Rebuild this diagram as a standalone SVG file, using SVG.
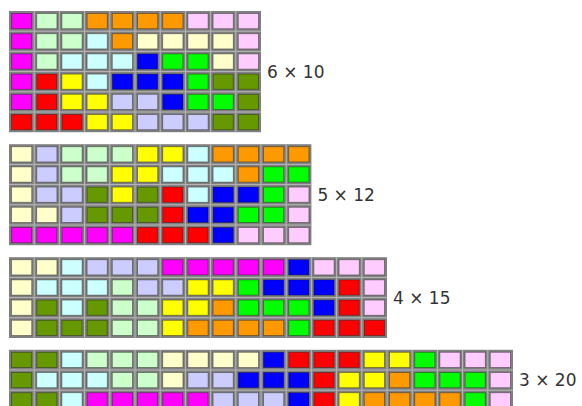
<svg xmlns="http://www.w3.org/2000/svg" xmlns:xlink="http://www.w3.org/1999/xlink" width="582" height="406" viewBox="0 0 582 406">
<style>
.bg{fill:#7f7f7f}
.ln{stroke:#b8b8b8;stroke-width:1;fill:none}
.cell{stroke:#000;stroke-opacity:0.35;stroke-width:1}
.m{fill:#ff00ff}.g{fill:#ccffcc}.o{fill:#ff9900}.k{fill:#ffccff}.c{fill:#ccffff}.y{fill:#ffffcc}
.b{fill:#0000ff}.n{fill:#00ff00}.v{fill:#669900}.r{fill:#ff0000}.w{fill:#ffff00}.l{fill:#ccccff}
.lbl{font-family:"DejaVu Sans","Liberation Sans",sans-serif;font-size:17px;fill:#333}
</style>
<defs>
<rect id="cm" class="cell m" width="20.2" height="15.2"/>
<rect id="cg" class="cell g" width="20.2" height="15.2"/>
<rect id="co" class="cell o" width="20.2" height="15.2"/>
<rect id="ck" class="cell k" width="20.2" height="15.2"/>
<rect id="cc" class="cell c" width="20.2" height="15.2"/>
<rect id="cy" class="cell y" width="20.2" height="15.2"/>
<rect id="cb" class="cell b" width="20.2" height="15.2"/>
<rect id="cn" class="cell n" width="20.2" height="15.2"/>
<rect id="cv" class="cell v" width="20.2" height="15.2"/>
<rect id="cr" class="cell r" width="20.2" height="15.2"/>
<rect id="cw" class="cell w" width="20.2" height="15.2"/>
<rect id="cl" class="cell l" width="20.2" height="15.2"/>
</defs>

<g id="grid-6x10">
<rect class="bg" x="9" y="11" width="252" height="121.2"/>
<path class="ln" d="M34.2 11V132.2M59.4 11V132.2M84.6 11V132.2M109.8 11V132.2M135 11V132.2M160.2 11V132.2M185.4 11V132.2M210.6 11V132.2M235.8 11V132.2M9 31.2H261M9 51.4H261M9 71.6H261M9 91.8H261M9 112H261"/>
<g transform="translate(0,13.5)">
<use href="#cm" x="11.5"/><use href="#cg" x="36.7"/><use href="#cg" x="61.9"/><use href="#co" x="87.1"/><use href="#co" x="112.3"/><use href="#co" x="137.5"/><use href="#co" x="162.7"/><use href="#ck" x="187.9"/><use href="#ck" x="213.1"/><use href="#ck" x="238.3"/>
</g>
<g transform="translate(0,33.7)">
<use href="#cm" x="11.5"/><use href="#cg" x="36.7"/><use href="#cg" x="61.9"/><use href="#cc" x="87.1"/><use href="#co" x="112.3"/><use href="#cy" x="137.5"/><use href="#cy" x="162.7"/><use href="#cy" x="187.9"/><use href="#cy" x="213.1"/><use href="#ck" x="238.3"/>
</g>
<g transform="translate(0,53.9)">
<use href="#cm" x="11.5"/><use href="#cg" x="36.7"/><use href="#cc" x="61.9"/><use href="#cc" x="87.1"/><use href="#cc" x="112.3"/><use href="#cb" x="137.5"/><use href="#cn" x="162.7"/><use href="#cn" x="187.9"/><use href="#cy" x="213.1"/><use href="#ck" x="238.3"/>
</g>
<g transform="translate(0,74.1)">
<use href="#cm" x="11.5"/><use href="#cr" x="36.7"/><use href="#cw" x="61.9"/><use href="#cc" x="87.1"/><use href="#cb" x="112.3"/><use href="#cb" x="137.5"/><use href="#cb" x="162.7"/><use href="#cn" x="187.9"/><use href="#cv" x="213.1"/><use href="#cv" x="238.3"/>
</g>
<g transform="translate(0,94.3)">
<use href="#cm" x="11.5"/><use href="#cr" x="36.7"/><use href="#cw" x="61.9"/><use href="#cw" x="87.1"/><use href="#cl" x="112.3"/><use href="#cl" x="137.5"/><use href="#cb" x="162.7"/><use href="#cn" x="187.9"/><use href="#cn" x="213.1"/><use href="#cv" x="238.3"/>
</g>
<g transform="translate(0,114.5)">
<use href="#cr" x="11.5"/><use href="#cr" x="36.7"/><use href="#cr" x="61.9"/><use href="#cw" x="87.1"/><use href="#cw" x="112.3"/><use href="#cl" x="137.5"/><use href="#cl" x="162.7"/><use href="#cl" x="187.9"/><use href="#cv" x="213.1"/><use href="#cv" x="238.3"/>
</g>
<text class="lbl" x="267" y="78">6 × 10</text>
</g>

<g id="grid-5x12">
<rect class="bg" x="9" y="144.2" width="302.4" height="101"/>
<path class="ln" d="M34.2 144.2V245.2M59.4 144.2V245.2M84.6 144.2V245.2M109.8 144.2V245.2M135 144.2V245.2M160.2 144.2V245.2M185.4 144.2V245.2M210.6 144.2V245.2M235.8 144.2V245.2M261 144.2V245.2M286.2 144.2V245.2M9 164.4H311.4M9 184.6H311.4M9 204.8H311.4M9 225H311.4"/>
<g transform="translate(0,146.7)">
<use href="#cy" x="11.5"/><use href="#cl" x="36.7"/><use href="#cg" x="61.9"/><use href="#cg" x="87.1"/><use href="#cg" x="112.3"/><use href="#cw" x="137.5"/><use href="#cw" x="162.7"/><use href="#cc" x="187.9"/><use href="#co" x="213.1"/><use href="#co" x="238.3"/><use href="#co" x="263.5"/><use href="#co" x="288.7"/>
</g>
<g transform="translate(0,166.9)">
<use href="#cy" x="11.5"/><use href="#cl" x="36.7"/><use href="#cg" x="61.9"/><use href="#cg" x="87.1"/><use href="#cw" x="112.3"/><use href="#cw" x="137.5"/><use href="#cc" x="162.7"/><use href="#cc" x="187.9"/><use href="#cc" x="213.1"/><use href="#co" x="238.3"/><use href="#cn" x="263.5"/><use href="#cn" x="288.7"/>
</g>
<g transform="translate(0,187.1)">
<use href="#cy" x="11.5"/><use href="#cl" x="36.7"/><use href="#cl" x="61.9"/><use href="#cv" x="87.1"/><use href="#cw" x="112.3"/><use href="#cv" x="137.5"/><use href="#cr" x="162.7"/><use href="#cc" x="187.9"/><use href="#cb" x="213.1"/><use href="#cb" x="238.3"/><use href="#cn" x="263.5"/><use href="#ck" x="288.7"/>
</g>
<g transform="translate(0,207.3)">
<use href="#cy" x="11.5"/><use href="#cy" x="36.7"/><use href="#cl" x="61.9"/><use href="#cv" x="87.1"/><use href="#cv" x="112.3"/><use href="#cv" x="137.5"/><use href="#cr" x="162.7"/><use href="#cb" x="187.9"/><use href="#cb" x="213.1"/><use href="#cn" x="238.3"/><use href="#cn" x="263.5"/><use href="#ck" x="288.7"/>
</g>
<g transform="translate(0,227.5)">
<use href="#cm" x="11.5"/><use href="#cm" x="36.7"/><use href="#cm" x="61.9"/><use href="#cm" x="87.1"/><use href="#cm" x="112.3"/><use href="#cr" x="137.5"/><use href="#cr" x="162.7"/><use href="#cr" x="187.9"/><use href="#cb" x="213.1"/><use href="#ck" x="238.3"/><use href="#ck" x="263.5"/><use href="#ck" x="288.7"/>
</g>
<text class="lbl" x="317.4" y="201">5 × 12</text>
</g>

<g id="grid-4x15">
<rect class="bg" x="9" y="257.2" width="378" height="80.8"/>
<path class="ln" d="M34.2 257.2V338M59.4 257.2V338M84.6 257.2V338M109.8 257.2V338M135 257.2V338M160.2 257.2V338M185.4 257.2V338M210.6 257.2V338M235.8 257.2V338M261 257.2V338M286.2 257.2V338M311.4 257.2V338M336.6 257.2V338M361.8 257.2V338M9 277.4H387M9 297.6H387M9 317.8H387"/>
<g transform="translate(0,259.7)">
<use href="#cy" x="11.5"/><use href="#cy" x="36.7"/><use href="#cc" x="61.9"/><use href="#cl" x="87.1"/><use href="#cl" x="112.3"/><use href="#cl" x="137.5"/><use href="#cm" x="162.7"/><use href="#cm" x="187.9"/><use href="#cm" x="213.1"/><use href="#cm" x="238.3"/><use href="#cm" x="263.5"/><use href="#cb" x="288.7"/><use href="#ck" x="313.9"/><use href="#ck" x="339.1"/><use href="#ck" x="364.3"/>
</g>
<g transform="translate(0,279.9)">
<use href="#cy" x="11.5"/><use href="#cc" x="36.7"/><use href="#cc" x="61.9"/><use href="#cc" x="87.1"/><use href="#cg" x="112.3"/><use href="#cl" x="137.5"/><use href="#cl" x="162.7"/><use href="#cw" x="187.9"/><use href="#cw" x="213.1"/><use href="#cn" x="238.3"/><use href="#cb" x="263.5"/><use href="#cb" x="288.7"/><use href="#cb" x="313.9"/><use href="#cr" x="339.1"/><use href="#ck" x="364.3"/>
</g>
<g transform="translate(0,300.1)">
<use href="#cy" x="11.5"/><use href="#cv" x="36.7"/><use href="#cc" x="61.9"/><use href="#cv" x="87.1"/><use href="#cg" x="112.3"/><use href="#cg" x="137.5"/><use href="#cw" x="162.7"/><use href="#cw" x="187.9"/><use href="#co" x="213.1"/><use href="#cn" x="238.3"/><use href="#cn" x="263.5"/><use href="#cn" x="288.7"/><use href="#cb" x="313.9"/><use href="#cr" x="339.1"/><use href="#ck" x="364.3"/>
</g>
<g transform="translate(0,320.3)">
<use href="#cy" x="11.5"/><use href="#cv" x="36.7"/><use href="#cv" x="61.9"/><use href="#cv" x="87.1"/><use href="#cg" x="112.3"/><use href="#cg" x="137.5"/><use href="#cw" x="162.7"/><use href="#co" x="187.9"/><use href="#co" x="213.1"/><use href="#co" x="238.3"/><use href="#co" x="263.5"/><use href="#cn" x="288.7"/><use href="#cr" x="313.9"/><use href="#cr" x="339.1"/><use href="#cr" x="364.3"/>
</g>
<text class="lbl" x="393" y="304">4 × 15</text>
</g>

<g id="grid-3x20">
<rect class="bg" x="9" y="349.8" width="504" height="60.6"/>
<path class="ln" d="M34.2 349.8V410.4M59.4 349.8V410.4M84.6 349.8V410.4M109.8 349.8V410.4M135 349.8V410.4M160.2 349.8V410.4M185.4 349.8V410.4M210.6 349.8V410.4M235.8 349.8V410.4M261 349.8V410.4M286.2 349.8V410.4M311.4 349.8V410.4M336.6 349.8V410.4M361.8 349.8V410.4M387 349.8V410.4M412.2 349.8V410.4M437.4 349.8V410.4M462.6 349.8V410.4M487.8 349.8V410.4M9 370H513M9 390.2H513"/>
<g transform="translate(0,352.3)">
<use href="#cv" x="11.5"/><use href="#cv" x="36.7"/><use href="#cc" x="61.9"/><use href="#cg" x="87.1"/><use href="#cg" x="112.3"/><use href="#cg" x="137.5"/><use href="#cy" x="162.7"/><use href="#cy" x="187.9"/><use href="#cy" x="213.1"/><use href="#cy" x="238.3"/><use href="#cb" x="263.5"/><use href="#cr" x="288.7"/><use href="#cr" x="313.9"/><use href="#cr" x="339.1"/><use href="#cw" x="364.3"/><use href="#cw" x="389.5"/><use href="#cn" x="414.7"/><use href="#ck" x="439.9"/><use href="#ck" x="465.1"/><use href="#ck" x="490.3"/>
</g>
<g transform="translate(0,372.5)">
<use href="#cv" x="11.5"/><use href="#cc" x="36.7"/><use href="#cc" x="61.9"/><use href="#cc" x="87.1"/><use href="#cg" x="112.3"/><use href="#cg" x="137.5"/><use href="#cy" x="162.7"/><use href="#cl" x="187.9"/><use href="#cl" x="213.1"/><use href="#cb" x="238.3"/><use href="#cb" x="263.5"/><use href="#cb" x="288.7"/><use href="#cr" x="313.9"/><use href="#cw" x="339.1"/><use href="#cw" x="364.3"/><use href="#co" x="389.5"/><use href="#cn" x="414.7"/><use href="#cn" x="439.9"/><use href="#cn" x="465.1"/><use href="#ck" x="490.3"/>
</g>
<g transform="translate(0,392.7)">
<use href="#cv" x="11.5"/><use href="#cv" x="36.7"/><use href="#cc" x="61.9"/><use href="#cm" x="87.1"/><use href="#cm" x="112.3"/><use href="#cm" x="137.5"/><use href="#cm" x="162.7"/><use href="#cm" x="187.9"/><use href="#cl" x="213.1"/><use href="#cl" x="238.3"/><use href="#cl" x="263.5"/><use href="#cb" x="288.7"/><use href="#cr" x="313.9"/><use href="#cw" x="339.1"/><use href="#co" x="364.3"/><use href="#co" x="389.5"/><use href="#co" x="414.7"/><use href="#co" x="439.9"/><use href="#cn" x="465.1"/><use href="#ck" x="490.3"/>
</g>
<text class="lbl" x="519" y="386">3 × 20</text>
</g>
</svg>
